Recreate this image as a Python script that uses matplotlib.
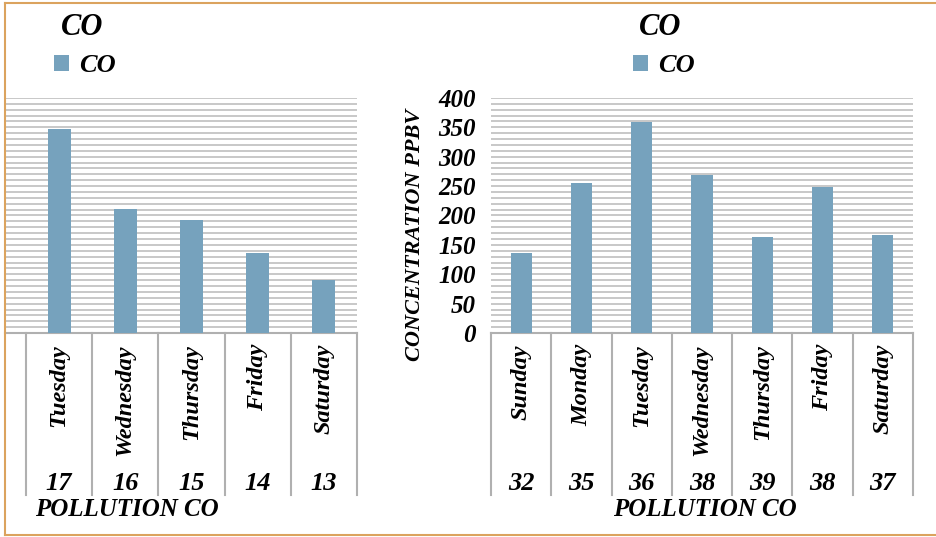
import matplotlib
matplotlib.use("Agg")
import matplotlib.pyplot as plt
import numpy as np
from matplotlib.transforms import blended_transform_factory, Bbox, TransformedBbox

# data
days_left = ["Monday", "Tuesday", "Wednesday", "Thursday", "Friday", "Saturday"]
nums_left = ["25", "17", "16", "15", "14", "13"]
co_left = [0, 347, 211, 192, 136, 90]

days_right = ["Sunday", "Monday", "Tuesday", "Wednesday", "Thursday", "Friday", "Saturday"]
nums_right = ["32", "35", "36", "38", "39", "38", "37"]
co_right = [136, 255, 359, 269, 163, 249, 167]

W, H = 937, 537
bar_col = "#76a2bd"
grid_col = "#bfbfbf"
frame_col = "#dba35e"

plt.rcParams["font.family"] = "Liberation Serif"
plt.rcParams["font.weight"] = "bold"
plt.rcParams["font.style"] = "italic"

fig = plt.figure(figsize=(W / 100, H / 100), dpi=100)


def px(x0, y0, x1, y1):
    # pixel box -> figure fraction [l, b, w, h]
    return [x0 / W, 1 - y1 / H, (x1 - x0) / W, (y1 - y0) / H]


def draw_panel(ax, days, nums, vals, xlim, clip_left=None):
    x = np.arange(len(days))
    ax.bar(x, vals, width=0.35, color=bar_col, zorder=3, label="CO")
    ax.set_ylim(0, 400)
    ax.set_xlim(*xlim)
    ax.set_yticks(np.arange(0, 401, 50))
    ax.set_yticks(np.arange(0, 401, 10), minor=True)
    ax.grid(axis="y", which="both", color=grid_col, lw=1.2, zorder=0)
    ax.tick_params(axis="y", which="both", length=0)
    ax.set_xticks([])
    for s in ["top", "right", "left"]:
        ax.spines[s].set_visible(False)
    ax.spines["bottom"].set_color("#b0b0b0")
    ax.spines["bottom"].set_linewidth(1.5)

    tr_line = blended_transform_factory(ax.transData, ax.transAxes)
    tr_txt = blended_transform_factory(ax.transData, fig.transFigure)
    low = -(495 - 333) / 235
    for b in np.arange(-0.5, len(days), 1.0):
        if xlim[0] <= b <= xlim[1]:
            ax.plot([b, b], [0, low], transform=tr_line, color="#b0b0b0",
                    lw=1.5, clip_on=False)
    for i in x:
        t1 = ax.text(i, 1 - 344 / H, days[i], rotation=90, ha="center", va="top",
                     fontsize=17.5, transform=tr_txt)
        t2 = ax.text(i, 1 - 483 / H, nums[i], ha="center", va="center",
                     fontsize=19, transform=tr_txt)
        if clip_left is not None:
            # the left chart is cropped at the frame edge
            cb = TransformedBbox(Bbox([[clip_left / W, 0], [1, 1]]), fig.transFigure)
            for t in (t1, t2):
                t.set_clip_box(cb)
                t.set_clip_on(True)


# left (cropped) panel
axl = fig.add_axes(px(5, 98, 357, 333))
draw_panel(axl, days_left, nums_left, co_left, (0.183, 5.5), clip_left=5)
axl.set_yticklabels([])

# right panel
axr = fig.add_axes(px(491, 98, 913, 333))
draw_panel(axr, days_right, nums_right, co_right, (-0.5, 6.5))
axr.tick_params(axis="y", pad=11, labelsize=18)

fig.text(415 / W, 1 - 235 / H, "CONCENTRATION PPBV", rotation=90,
         ha="center", va="center", fontsize=16)

for cx, lx, ax in [(82, 85, axl), (660, 664, axr)]:
    fig.text(cx / W, 1 - 28 / H, "CO", ha="center", va="center", fontsize=22)
    ax.legend(loc="center", bbox_to_anchor=(lx / W, 1 - 66 / H),
              bbox_transform=fig.transFigure, frameon=False, fontsize=19,
              handlelength=0.55, handleheight=0.55, handletextpad=0.4,
              borderpad=0)

fig.text(127 / W, 1 - 510 / H, "POLLUTION CO", ha="center", va="center", fontsize=18)
fig.text(705 / W, 1 - 510 / H, "POLLUTION CO", ha="center", va="center", fontsize=18)

# outer frame
fig.add_artist(plt.Line2D([5 / W, 1], [1 - 3 / H, 1 - 3 / H], color=frame_col, lw=1.5))
fig.add_artist(plt.Line2D([5 / W, 1], [1 - 535 / H, 1 - 535 / H], color=frame_col, lw=1.5))
fig.add_artist(plt.Line2D([5 / W, 5 / W], [1 - 3 / H, 1 - 535 / H], color=frame_col, lw=1.5))

fig.savefig("out.png", dpi=100)
